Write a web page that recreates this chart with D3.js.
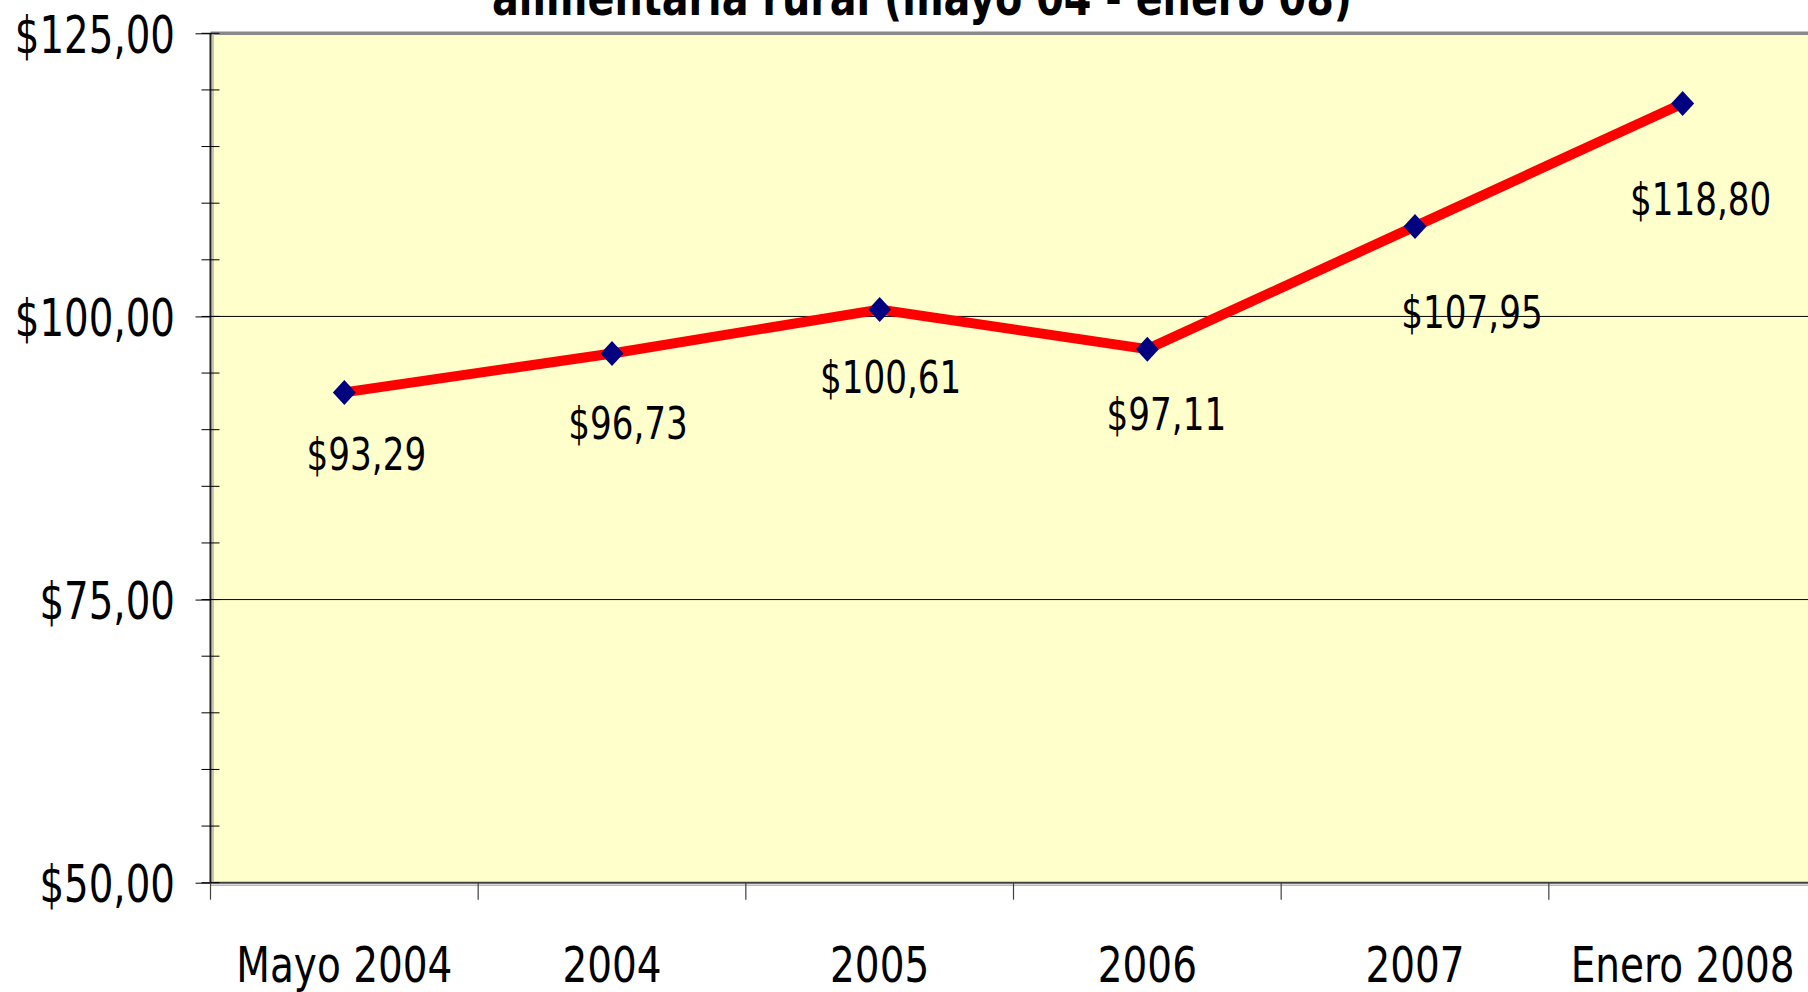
<!DOCTYPE html>
<html>
<head>
<meta charset="utf-8">
<script src="https://cdn.jsdelivr.net/npm/d3@7"></script>
<style>
  html, body { margin: 0; padding: 0; background: #ffffff; }
  svg { display: block; }
  text { font-family: "DejaVu Sans", Verdana, sans-serif; fill: #000; }
</style>
</head>
<body>
<div id="chart"></div>
<script>
// chart data
var categories = ["Mayo 2004", "2004", "2005", "2006", "2007", "Enero 2008"];
var values = [93.29, 96.73, 100.61, 97.11, 107.95, 118.80];
var yTicks = [50, 75, 100, 125];
var yMinorTicks = d3.range(50, 126, 5);
var gridValues = [75, 100];
var titleText = "alimentaria rural (mayo 04 - enero 08)";
// label offsets from each point (label centre / baseline)
var labelOffsets = [[22, 78], [16, 86], [11, 83], [19, 81], [57, 102], [18, 111]];

var W = 1808, H = 992;
var plot = {left: 210.5, right: 1816.5, top: 33.3, bottom: 882.7};
var sx = 0.76; // horizontal squeeze of the text

var fmt = function(v) { return "$" + v.toFixed(2).replace(".", ","); };

var svg = d3.select("#chart")
    .append("svg")
    .attr("width", W)
    .attr("height", H);

var x = d3.scaleBand()
    .domain(categories)
    .range([plot.left, plot.right]);

var y = d3.scaleLinear()
    .domain([50, 125])
    .range([plot.bottom, plot.top]);

// plot background
svg.append("rect")
    .attr("x", plot.left)
    .attr("y", plot.top)
    .attr("width", plot.right - plot.left)
    .attr("height", plot.bottom - plot.top)
    .attr("fill", "#ffffcc");

// grid lines
svg.selectAll(".grid")
    .data(gridValues)
    .enter().append("line")
    .attr("class", "grid")
    .attr("x1", plot.left)
    .attr("x2", plot.right)
    .attr("y1", function(d) { return y(d); })
    .attr("y2", function(d) { return y(d); })
    .attr("stroke", "#000")
    .attr("stroke-width", 1);

// top border
svg.append("line")
    .attr("x1", plot.left).attr("x2", plot.right)
    .attr("y1", plot.top).attr("y2", plot.top)
    .attr("stroke", "#8a8a8a")
    .attr("stroke-width", 3.5);

// bottom axis line with shadow
svg.append("line")
    .attr("x1", plot.left).attr("x2", plot.right)
    .attr("y1", plot.bottom + 2.5).attr("y2", plot.bottom + 2.5)
    .attr("stroke", "#b8b8b8")
    .attr("stroke-width", 1.5);
svg.append("line")
    .attr("x1", plot.left).attr("x2", plot.right)
    .attr("y1", plot.bottom).attr("y2", plot.bottom)
    .attr("stroke", "#404040")
    .attr("stroke-width", 2);

// left axis line with shadow
svg.append("line")
    .attr("x1", plot.left + 2.5).attr("x2", plot.left + 2.5)
    .attr("y1", plot.top).attr("y2", plot.bottom)
    .attr("stroke", "#b0b0b0")
    .attr("stroke-width", 1.5);
svg.append("line")
    .attr("x1", plot.left).attr("x2", plot.left)
    .attr("y1", plot.top).attr("y2", plot.bottom)
    .attr("stroke", "#202020")
    .attr("stroke-width", 2);

// minor y ticks (crossing the axis)
svg.selectAll(".ytick-minor")
    .data(yMinorTicks)
    .enter().append("line")
    .attr("class", "ytick-minor")
    .attr("x1", plot.left - 9)
    .attr("x2", plot.left + 9)
    .attr("y1", function(d) { return y(d); })
    .attr("y2", function(d) { return y(d); })
    .attr("stroke", "#000")
    .attr("stroke-width", 1);

// major y ticks and labels
var yAxis = d3.axisLeft(y)
    .tickValues(yTicks)
    .tickSize(15)
    .tickFormat(fmt);

var yg = svg.append("g")
    .attr("class", "y axis")
    .attr("transform", "translate(" + plot.left + ",0)")
    .call(yAxis);
yg.select(".domain").remove();
yg.selectAll(".tick line").attr("stroke", "#000").attr("x2", -15);
yg.selectAll(".tick text")
    .attr("font-size", 51)
    .attr("font-family", "DejaVu Sans")
    .attr("fill", "#000")
    .attr("text-anchor", "end")
    .attr("x", -35.5 / sx)
    .attr("dy", 19)
    .attr("transform", "scale(" + sx + ",1)");

// x ticks at category boundaries
svg.selectAll(".xtick")
    .data(categories)
    .enter().append("line")
    .attr("class", "xtick")
    .attr("x1", function(d) { return x(d); })
    .attr("x2", function(d) { return x(d); })
    .attr("y1", plot.bottom)
    .attr("y2", plot.bottom + 17)
    .attr("stroke", "#404040")
    .attr("stroke-width", 1.2);

// x labels
var xAxis = d3.axisBottom(x).tickSize(0);
var xg = svg.append("g")
    .attr("class", "x axis")
    .attr("transform", "translate(0," + plot.bottom + ")")
    .call(xAxis);
xg.select(".domain").remove();
xg.selectAll(".tick text")
    .attr("font-size", 50)
    .attr("font-family", "DejaVu Sans")
    .attr("fill", "#000")
    .attr("y", 99)
    .attr("dy", 0)
    .attr("transform", "scale(" + (sx + 0.02) + ",1)");

// the data line
var line = d3.line()
    .x(function(d, i) { return x(categories[i]) + x.bandwidth() / 2; })
    .y(function(d) { return y(d); });

svg.append("path")
    .datum(values)
    .attr("d", line)
    .attr("fill", "none")
    .attr("stroke", "#ff0000")
    .attr("stroke-width", 10)
    .attr("stroke-linejoin", "miter");

// diamond markers
var diamond = function(cx, cy) {
  var p = d3.path();
  p.moveTo(cx, cy - 12.5);
  p.lineTo(cx + 11.5, cy);
  p.lineTo(cx, cy + 12.5);
  p.lineTo(cx - 11.5, cy);
  p.closePath();
  return p.toString();
};

svg.selectAll(".marker")
    .data(values)
    .enter().append("path")
    .attr("class", "marker")
    .attr("d", function(d, i) {
      return diamond(x(categories[i]) + x.bandwidth() / 2, y(d));
    })
    .attr("fill", "#000080");

// data labels
svg.selectAll(".dlabel")
    .data(values)
    .enter().append("text")
    .attr("class", "dlabel")
    .attr("transform", function(d, i) {
      var px = x(categories[i]) + x.bandwidth() / 2 + labelOffsets[i][0];
      var py = y(d) + labelOffsets[i][1];
      return "translate(" + px + "," + py + ") scale(" + sx + ",1)";
    })
    .attr("text-anchor", "middle")
    .attr("font-size", 45)
    .text(function(d) { return fmt(d); });

// title (only its lower line is inside the picture)
svg.append("text")
    .attr("x", 922)
    .attr("y", 15)
    .attr("text-anchor", "middle")
    .attr("font-size", 50)
    .attr("font-weight", "bold")
    .attr("textLength", 860)
    .attr("lengthAdjust", "spacingAndGlyphs")
    .text(titleText);
</script>
</body>
</html>
